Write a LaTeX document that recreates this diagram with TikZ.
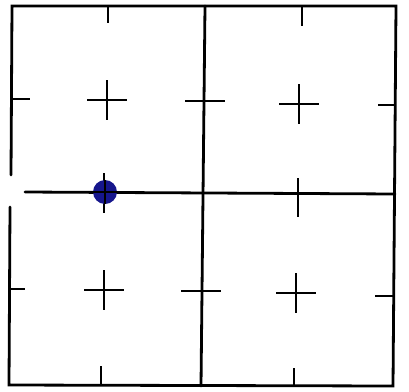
\documentclass[tikz,border=0pt]{standalone}
\usepackage{xcolor}
\usepackage{tikz}
\definecolor{dotblue}{RGB}{22,22,140}

\begin{document}
\begin{tikzpicture}[x=1pt, y=-1pt,
    wall/.style={draw, line width=2.8pt, line cap=round},
    tick/.style={draw, line width=2.8pt},
    marker/.style={circle, fill=dotblue, inner sep=0pt, minimum size=24pt}
]
\useasboundingbox (0,0) rectangle (409,391);

% Outer frame, left side broken at the middle line
\coordinate (tl) at (12,6);
\coordinate (tr) at (396,6);
\coordinate (br) at (393,386);
\coordinate (bl) at (9,385);
\coordinate (lgap1) at (11,175);
\coordinate (lgap2) at (10,207);
\draw[wall] (lgap1) -- (tl) -- (tr) -- (br) -- (bl) -- (lgap2);

% Middle lines
\coordinate (mtop) at (205,6);
\coordinate (mbot) at (201,386);
\coordinate (hleft) at (25,192);
\coordinate (hright) at (395,194);
\draw[wall] (mtop) -- (mbot);
\draw[wall] (hleft) -- (hright);

% Free-standing crosses in each quarter
\foreach \x/\y in {107/100, 299/104, 104/290, 296/293}
    \draw[tick] (\x-20,\y) -- (\x+20,\y) (\x,\y-20) -- (\x,\y+20);

% Crosses on the middle lines
\draw[tick] (185,101) -- (225,101);
\draw[tick] (181,291) -- (221,291);
\draw[tick] (104,173) -- (104,213);
\draw[tick] (298,178) -- (298,217);

% Ticks on the frame
\draw[tick] (108,6) -- (108,23);
\draw[tick] (302,6) -- (302,26);
\draw[tick] (101,385) -- (101,366);
\draw[tick] (294,386) -- (294,368);
\draw[tick] (12,99) -- (30,99);
\draw[tick] (9,289) -- (25,289);
\draw[tick] (395,105) -- (378,105);
\draw[tick] (393,296) -- (375,296);

% Marked point
\node[marker] (spot) at (105,192) {};
\draw[tick] (spot.north) -- (spot.south);
\draw[tick] (spot.west) -- (spot.east);

\end{tikzpicture}
\end{document}
